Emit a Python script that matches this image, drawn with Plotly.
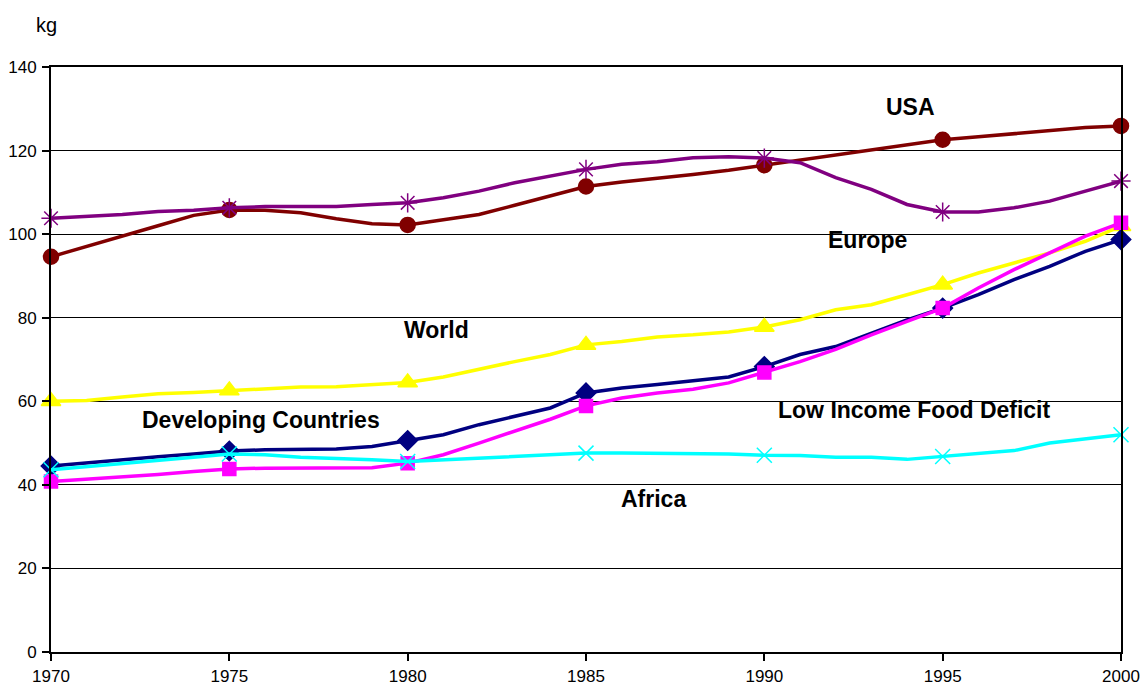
import plotly.graph_objects as go

years = list(range(1970, 2001))

usa = [94.6, 97.0, 99.5, 102.0, 104.5, 105.8, 105.7, 105.1, 103.7, 102.5, 102.2,
       103.4, 104.7, 106.9, 109.1, 111.4, 112.5, 113.3, 114.3, 115.3, 116.5,
       117.9, 119.1, 120.3, 121.5, 122.6, 123.3, 124.1, 124.7, 125.5, 125.9]
europe = [103.8, 104.2, 104.7, 105.4, 105.7, 106.3, 106.6, 106.6, 106.6, 107.1, 107.5,
          108.7, 110.3, 112.3, 113.9, 115.5, 116.7, 117.3, 118.3, 118.5, 118.2,
          117.1, 113.5, 110.7, 107.1, 105.3, 105.3, 106.3, 107.9, 110.3, 112.7]
world = [60.0, 60.2, 61.0, 61.8, 62.1, 62.6, 63.0, 63.4, 63.5, 63.9, 64.5,
         65.8, 67.7, 69.5, 71.2, 73.5, 74.3, 75.4, 75.9, 76.6, 77.8,
         79.5, 81.9, 83.1, 85.5, 87.9, 90.7, 93.1, 95.5, 98.3, 101.9]
developing = [44.5, 45.3, 46.0, 46.7, 47.4, 48.1, 48.4, 48.6, 48.6, 49.2, 50.6,
              52.0, 54.4, 56.4, 58.4, 62.0, 63.2, 64.0, 64.8, 65.8, 68.3,
              71.2, 73.1, 76.3, 79.5, 82.3, 85.5, 89.1, 92.3, 95.9, 98.7]
lifd = [40.8, 41.3, 41.9, 42.5, 43.2, 43.8, 44.0, 44.0, 44.0, 44.1, 45.2,
        47.2, 50.0, 52.8, 55.7, 58.9, 60.8, 62.0, 62.9, 64.4, 66.9,
        69.5, 72.4, 75.9, 79.1, 82.3, 87.1, 91.5, 95.5, 99.5, 102.7]
africa = [43.6, 44.3, 45.1, 45.8, 46.6, 47.4, 47.2, 46.6, 46.4, 46.0, 45.6,
          46.0, 46.4, 46.8, 47.2, 47.6, 47.6, 47.6, 47.5, 47.4, 47.1,
          47.0, 46.6, 46.6, 46.1, 46.8, 47.6, 48.2, 50.0, 50.9, 52.0]

series_names = ["USA", "Europe", "World", "Developing Countries",
                "Low Income Food Deficit", "Africa"]
y_ticks = [0, 20, 40, 60, 80, 100, 120, 140]
x_ticks = [1970, 1975, 1980, 1985, 1990, 1995, 2000]

styles = [
    (usa, "#800000", "circle", 15),
    (europe, "#800080", "asterisk-open", 16),
    (world, "#FFFF00", "triangle-up", 17),
    (developing, "#000080", "diamond", 15),
    (lifd, "#FF00FF", "square", 13),
    (africa, "#00FFFF", "x-thin-open", 15),
]

fig = go.Figure()
for name, (vals, col, sym, sz) in zip(series_names, styles):
    sizes = [sz if y % 5 == 0 else 0 for y in years]
    fig.add_trace(go.Scatter(
        x=years, y=vals, name=name, mode="lines+markers",
        line=dict(color=col, width=3.5),
        marker=dict(symbol=sym, size=sizes, color=col, opacity=1,
                    line=dict(color=col, width=1.5)),
        opacity=1, cliponaxis=False, showlegend=False,
    ))

labels = [
    ("USA", 1994.1, 130.4),
    ("Europe", 1992.9, 98.7),
    ("World", 1980.8, 77.1),
    ("Developing Countries", 1975.9, 55.6),
    ("Low Income Food Deficit", 1994.2, 58.0),
    ("Africa", 1986.9, 36.6),
]
for txt, lx, ly in labels:
    fig.add_annotation(x=lx, y=ly, text="<b>%s</b>" % txt, showarrow=False,
                       font=dict(family="Arial, Liberation Sans", size=23, color="black"),
                       xanchor="center", yanchor="middle")

fig.add_annotation(x=-0.004, y=1.072, xref="paper", yref="paper", text="kg",
                   showarrow=False, xanchor="center", yanchor="middle",
                   font=dict(family="Arial, Liberation Sans", size=20, color="black"))

fig.update_layout(
    width=1143, height=686,
    margin=dict(l=51, r=22, t=67, b=34, autoexpand=False),
    paper_bgcolor="white", plot_bgcolor="white",
    font=dict(family="Arial, Liberation Sans", size=17, color="black"),
    xaxis=dict(range=[1970, 2000], tickvals=x_ticks, showgrid=False, zeroline=False,
               showline=True, linecolor="black", linewidth=2, mirror=True,
               ticks="outside", ticklen=7, tickcolor="black", tickwidth=1.5,
               ticklabelstandoff=1, automargin=False, tickfont=dict(size=17)),
    yaxis=dict(range=[0, 140], tickvals=y_ticks, showgrid=True, gridcolor="black",
               gridwidth=1.3, zeroline=False, showline=True, linecolor="black",
               linewidth=2, mirror=True, ticks="outside", ticklen=7, tickcolor="black",
               tickwidth=1.5, ticklabelstandoff=2, automargin=False,
               tickfont=dict(size=17)),
)

fig.write_html("out.html")
